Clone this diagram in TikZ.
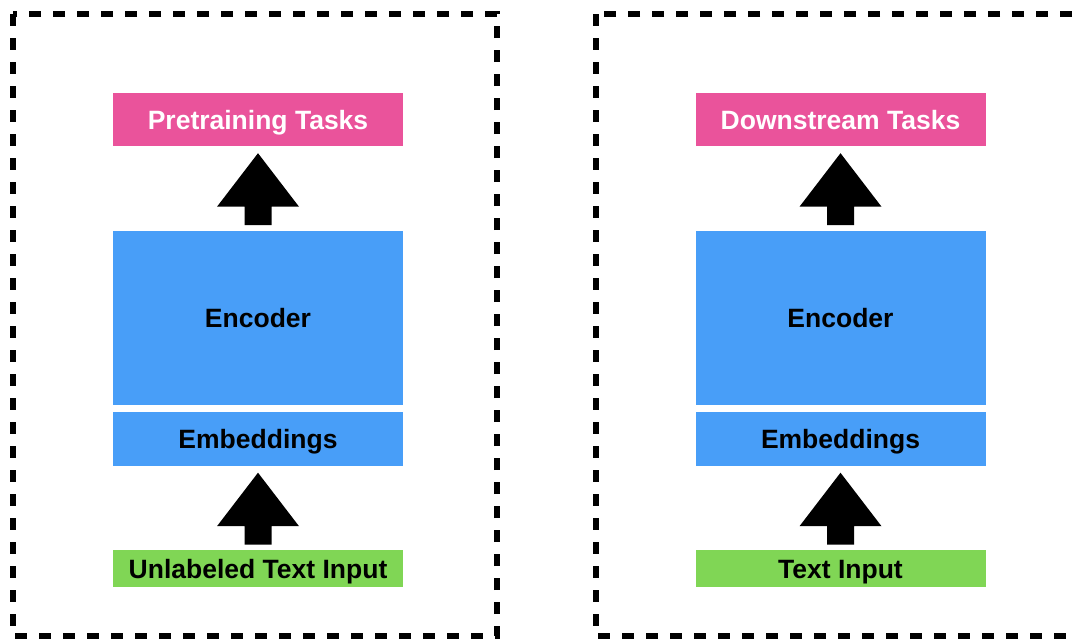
\documentclass[tikz,border=0pt]{standalone}
\usepackage{fontspec}
\setmainfont{Liberation Sans}
\usetikzlibrary{calc}
\definecolor{pinkc}{RGB}{234,83,155}
\definecolor{bluec}{RGB}{72,158,248}
\definecolor{greenc}{RGB}{128,214,85}
\tikzset{
  panel/.style={draw=black, line width=6pt, dash pattern=on 12pt off 12pt},
  boxbase/.style={rectangle, inner sep=0pt, minimum width=290pt, text height=19pt, text depth=0pt, font=\fontsize{26.5}{30}\selectfont\bfseries},
  taskbox/.style={boxbase, fill=pinkc, text=white, minimum height=53pt},
  encbox/.style={boxbase, fill=bluec, text=black, minimum height=174pt},
  embbox/.style={boxbase, fill=bluec, text=black, minimum height=54pt},
  inbox/.style={boxbase, fill=greenc, text=black, minimum height=37pt},
  blockarrow/.style={fill=black}
}
\newcommand\blockup[1]{\fill[blockarrow] ($(#1)+(0,7)$) -- ++(41,53.5) -- ++(-27.5,0) -- ++(0,18.5) -- ++(-27,0) -- ++(0,-18.5) -- ++(-27.5,0) -- cycle;}
\begin{document}
\begin{tikzpicture}[x=1pt,y=-1pt]
\useasboundingbox (0,0) rectangle (1076,641);
\begin{scope}
\clip (0,0) rectangle (1076,641);
\draw[panel] (13,14) rectangle (497,636);
\draw[panel] (596,14) rectangle (1100,636);
\end{scope}
% left column
\node[taskbox] (ptask) at (258,119.5) {Pretraining Tasks};
\node[encbox] (lenc) at (258,318) {Encoder};
\node[embbox] (lemb) at (258,438.5) {Embeddings};
\node[inbox] (lin) at (258,568.5) {Unlabeled Text Input};
\blockup{ptask.south}
\blockup{lemb.south}
% right column
\node[taskbox] (dtask) at (840.5,119.5) {Downstream Tasks};
\node[encbox] (renc) at (840.5,318) {Encoder};
\node[embbox] (remb) at (840.5,438.5) {Embeddings};
\node[inbox] (rin) at (840.5,568.5) {Text Input};
\blockup{dtask.south}
\blockup{remb.south}
\end{tikzpicture}
\end{document}
